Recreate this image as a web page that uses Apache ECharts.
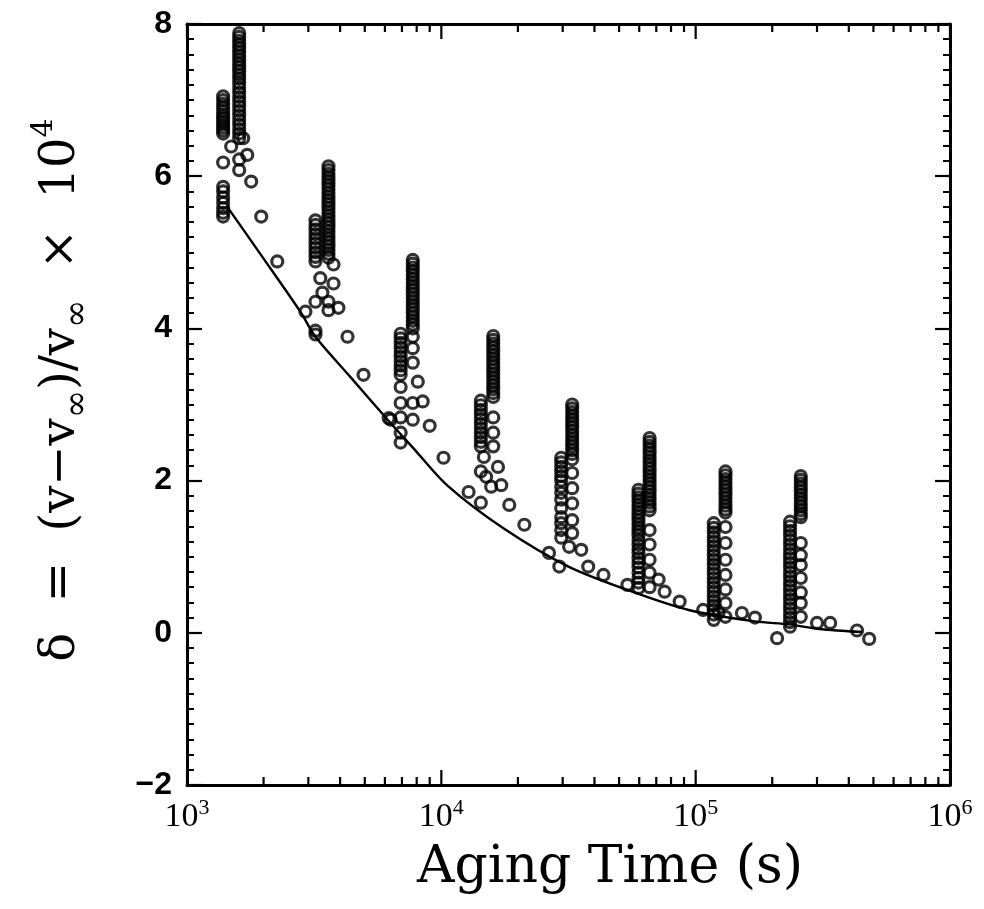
<!DOCTYPE html>
<html>
<head>
<meta charset="utf-8">
<title>Aging Time</title>
<script src="https://cdn.jsdelivr.net/npm/echarts@6/dist/echarts.min.js"></script>
<style>
html, body { margin: 0; padding: 0; background: #fff; }
#chart { width: 984px; height: 909px; }
</style>
</head>
<body>
<div id="chart"></div>
<script>
// aging time of each measured column (s), two columns per step
var colTimes = [1387, 1604, 3200, 3600, 6918, 7722, 14300, 16000,
                29600, 32700, 59600, 65900, 117800, 131000, 235000, 259000];

// delta values (x 1e4) read along each column
var colDelta = [
  [7.05, 7.0, 6.95, 6.9, 6.85, 6.8, 6.76, 6.72, 6.68, 6.64, 6.6, 6.56, 6.18, 5.86, 5.8, 5.72, 5.65, 5.58, 5.52, 5.47],
  [7.88, 7.83, 7.78, 7.73, 7.68, 7.63, 7.58, 7.53, 7.48, 7.43, 7.38, 7.33, 7.28, 7.22, 7.16, 7.1, 7.04, 6.98, 6.92, 6.86, 6.8, 6.74, 6.68, 6.62, 6.56, 6.5, 6.22, 6.08],
  [5.42, 5.36, 5.3, 5.24, 5.18, 5.12, 5.06, 5.0, 4.94, 4.88, 4.35, 3.97, 3.92],
  [6.13, 6.08, 6.03, 5.98, 5.93, 5.88, 5.83, 5.78, 5.73, 5.68, 5.63, 5.58, 5.53, 5.48, 5.43, 5.38, 5.33, 5.28, 5.23, 5.18, 5.13, 5.08, 5.03, 4.98, 4.93, 4.35, 4.24],
  [3.93, 3.87, 3.81, 3.75, 3.69, 3.63, 3.57, 3.51, 3.45, 3.39, 3.23, 3.02, 2.83, 2.63, 2.5],
  [4.9, 4.85, 4.8, 4.75, 4.7, 4.65, 4.6, 4.55, 4.5, 4.45, 4.4, 4.35, 4.3, 4.25, 4.2, 4.15, 4.1, 4.05, 4.0, 3.89, 3.74, 3.55, 3.02, 2.8],
  [3.05, 2.99, 2.93, 2.87, 2.81, 2.75, 2.69, 2.63, 2.57, 2.51, 2.45, 2.12, 1.71],
  [3.9, 3.85, 3.8, 3.75, 3.7, 3.65, 3.6, 3.55, 3.5, 3.45, 3.4, 3.35, 3.3, 3.25, 3.2, 3.15, 3.1, 2.83, 2.63, 2.45],
  [2.3, 2.24, 2.18, 2.12, 2.06, 2.0, 1.92, 1.84, 1.75, 1.64, 1.52, 1.44, 1.35, 1.25],
  [3.0, 2.95, 2.9, 2.85, 2.8, 2.75, 2.7, 2.65, 2.6, 2.55, 2.5, 2.45, 2.4, 2.35, 2.28, 2.1, 1.9, 1.7, 1.48, 1.31],
  [1.88, 1.83, 1.78, 1.73, 1.68, 1.63, 1.58, 1.53, 1.48, 1.43, 1.38, 1.33, 1.28, 1.22, 1.16, 1.1, 1.05, 0.98, 0.92, 0.86, 0.79, 0.72, 0.66, 0.59],
  [2.56, 2.51, 2.46, 2.41, 2.36, 2.31, 2.26, 2.21, 2.16, 2.11, 2.06, 2.01, 1.96, 1.91, 1.86, 1.81, 1.76, 1.71, 1.66, 1.61, 1.35, 1.16, 0.96, 0.79, 0.6],
  [1.44, 1.38, 1.32, 1.26, 1.2, 1.14, 1.08, 1.02, 0.96, 0.9, 0.84, 0.78, 0.72, 0.66, 0.6, 0.54, 0.48, 0.42, 0.36, 0.3, 0.24, 0.17],
  [2.12, 2.07, 2.02, 1.97, 1.92, 1.87, 1.82, 1.77, 1.72, 1.67, 1.62, 1.58, 1.39, 1.18, 0.96, 0.76, 0.57, 0.39, 0.21],
  [1.46, 1.4, 1.34, 1.28, 1.22, 1.16, 1.1, 1.04, 0.98, 0.92, 0.86, 0.8, 0.74, 0.68, 0.62, 0.56, 0.5, 0.44, 0.38, 0.32, 0.26, 0.2, 0.14, 0.08],
  [2.06, 2.01, 1.96, 1.91, 1.86, 1.81, 1.76, 1.71, 1.66, 1.61, 1.56, 1.52, 1.18, 1.02, 0.89, 0.72, 0.53, 0.39, 0.21]
];

// single points between the columns
var looseT = [1492, 1663, 1725, 1788, 1958, 2264, 2921,
              3342, 3407, 3767, 3767, 3940, 4277, 4943, 6209,
              6320, 8080, 8450, 9000, 10200, 12800,
              14700, 15000, 15700, 16700, 17200, 18500, 21200, 26500, 29100,
              31800, 35500, 37800, 43400, 53900,
              71500, 75500, 86500, 107000,
              123000, 152000, 171000, 209000,
              300000, 338000, 431000, 481000];
var looseD = [6.39, 6.5, 6.28, 5.93, 5.47, 4.88, 4.22,
              4.66, 4.47, 4.84, 4.59, 4.27, 3.89, 3.39, 2.82,
              2.8, 3.30, 3.04, 2.72, 2.30, 1.85,
              2.31, 2.05, 1.92, 2.18, 1.94, 1.68, 1.42, 1.05, 0.87,
              1.13, 1.09, 0.87, 0.76, 0.63,
              0.70, 0.54, 0.41, 0.30,
              0.26, 0.26, 0.20, -0.07,
              0.13, 0.13, 0.03, -0.08];

// fitted curve
var fitT = [1438, 1941, 2790, 3200, 4395, 6150, 7790, 10600, 17600, 31600, 57400, 93800, 171000, 233000, 306000, 452000];
var fitD = [5.60, 4.98, 4.22, 3.89, 3.36, 2.80, 2.42, 1.93, 1.37, 0.87, 0.53, 0.30, 0.15, 0.11, 0.05, 0.01];

// ticks
var xMajorTicks = [1000, 10000, 100000, 1000000];
var xMinorTicks = [2000, 3000, 4000, 5000, 6000, 7000, 8000, 9000,
                   20000, 30000, 40000, 50000, 60000, 70000, 80000, 90000,
                   200000, 300000, 400000, 500000, 600000, 700000, 800000, 900000];
var yMin = -2, yMax = 8, yStep = 2;

var chart = echarts.init(document.getElementById('chart'));

var points = [];
for (var i = 0; i < colTimes.length; i++) {
  for (var j = 0; j < colDelta[i].length; j++) {
    points.push([colTimes[i], colDelta[i][j]]);
  }
}
for (var k = 0; k < looseT.length; k++) {
  points.push([looseT[k], looseD[k]]);
}
var fit = fitT.map(function (t, n) { return [t, fitD[n]]; });

function tickSeries(ticks, len) {
  return {
    type: 'custom',
    silent: true,
    clip: false,
    z: 6,
    data: ticks.map(function (t) { return [t, yMin]; }),
    renderItem: function (params, api) {
      var b = api.coord([api.value(0), yMin]);
      var tp = api.coord([api.value(0), yMax]);
      var st = { stroke: '#000', lineWidth: 2.2 };
      return {
        type: 'group',
        children: [
          { type: 'line', shape: { x1: b[0], y1: b[1], x2: b[0], y2: b[1] - len }, style: st },
          { type: 'line', shape: { x1: tp[0], y1: tp[1], x2: tp[0], y2: tp[1] + len }, style: st }
        ]
      };
    }
  };
}

var yAxisBase = {
  type: 'value',
  min: yMin,
  max: yMax,
  interval: yStep,
  axisLine: { show: true, onZero: false, lineStyle: { color: '#000', width: 3 } },
  axisTick: { show: true, inside: true, length: 15, lineStyle: { color: '#000', width: 2.2 } },
  minorTick: { show: true, splitNumber: 10, length: 7, lineStyle: { color: '#000', width: 2 } },
  splitLine: { show: false }
};

var option = {
  animation: false,
  backgroundColor: '#fff',
  grid: { left: 187, right: 34, top: 24, bottom: 124, outerBoundsMode: 'none' },
  xAxis: [{
    type: 'log',
    logBase: 10,
    min: 1000,
    max: 1000000,
    position: 'bottom',
    axisLine: { show: true, onZero: false, lineStyle: { color: '#000', width: 3 } },
    axisTick: { show: false },
    splitLine: { show: false },
    axisLabel: {
      show: true,
      margin: 12,
      showMinLabel: true,
      showMaxLabel: true,
      formatter: function (v) {
        return '{b|10}{e|' + Math.round(Math.log10(v)) + '}';
      },
      rich: {
        b: { fontFamily: 'Liberation Serif', fontSize: 34, color: '#000', lineHeight: 40 },
        e: { fontFamily: 'Liberation Serif', fontSize: 22, color: '#000', lineHeight: 22, verticalAlign: 'top' }
      }
    }
  }, {
    type: 'log',
    logBase: 10,
    min: 1000,
    max: 1000000,
    position: 'top',
    axisLine: { show: true, onZero: false, lineStyle: { color: '#000', width: 3 } },
    axisTick: { show: false },
    axisLabel: { show: false },
    splitLine: { show: false }
  }],
  yAxis: [
    Object.assign({}, yAxisBase, {
      position: 'left',
      axisLabel: {
        show: true,
        margin: 15,
        fontFamily: 'Liberation Sans',
        fontWeight: 'bold',
        fontSize: 32,
        color: '#000',
        formatter: function (v) { return v < 0 ? '\u2212' + Math.abs(v) : String(v); }
      }
    }),
    Object.assign({}, yAxisBase, {
      position: 'right',
      axisLabel: { show: false }
    })
  ],
  graphic: [{
    type: 'text',
    x: 610,
    y: 868,
    style: {
      text: 'Aging Time (s)',
      fontFamily: 'DejaVu Serif',
      fontSize: 52,
      fill: '#000',
      align: 'center',
      verticalAlign: 'middle'
    }
  }, {
    type: 'text',
    x: 62,
    y: 390,
    rotation: Math.PI / 2,
    style: {
      text: '{n|\u03b4  =  (v\u2212v}{s|\u221e}{n|)/v}{s|\u221e}{n|  \u00d7  10}{p|4}',
      fill: '#000',
      align: 'center',
      verticalAlign: 'middle',
      rich: {
        n: { fontFamily: 'DejaVu Serif', fontSize: 48, lineHeight: 66, fill: '#000' },
        s: { fontFamily: 'DejaVu Serif', fontSize: 34, lineHeight: 30, verticalAlign: 'bottom', fill: '#000' },
        p: { fontFamily: 'DejaVu Serif', fontSize: 30, lineHeight: 28, verticalAlign: 'top', fill: '#000' }
      }
    }
  }],
  series: [{
    type: 'line',
    data: fit,
    showSymbol: false,
    smooth: 0.3,
    silent: true,
    lineStyle: { color: '#000', width: 2.4 },
    z: 2
  }, {
    type: 'scatter',
    data: points,
    symbol: 'circle',
    symbolSize: 11,
    silent: true,
    itemStyle: { color: 'rgba(0,0,0,0)', borderColor: '#000', borderWidth: 3.2 },
    z: 3
  },
  tickSeries(xMajorTicks, 15),
  tickSeries(xMinorTicks, 8)
  ]
};

chart.setOption(option);
</script>
</body>
</html>
